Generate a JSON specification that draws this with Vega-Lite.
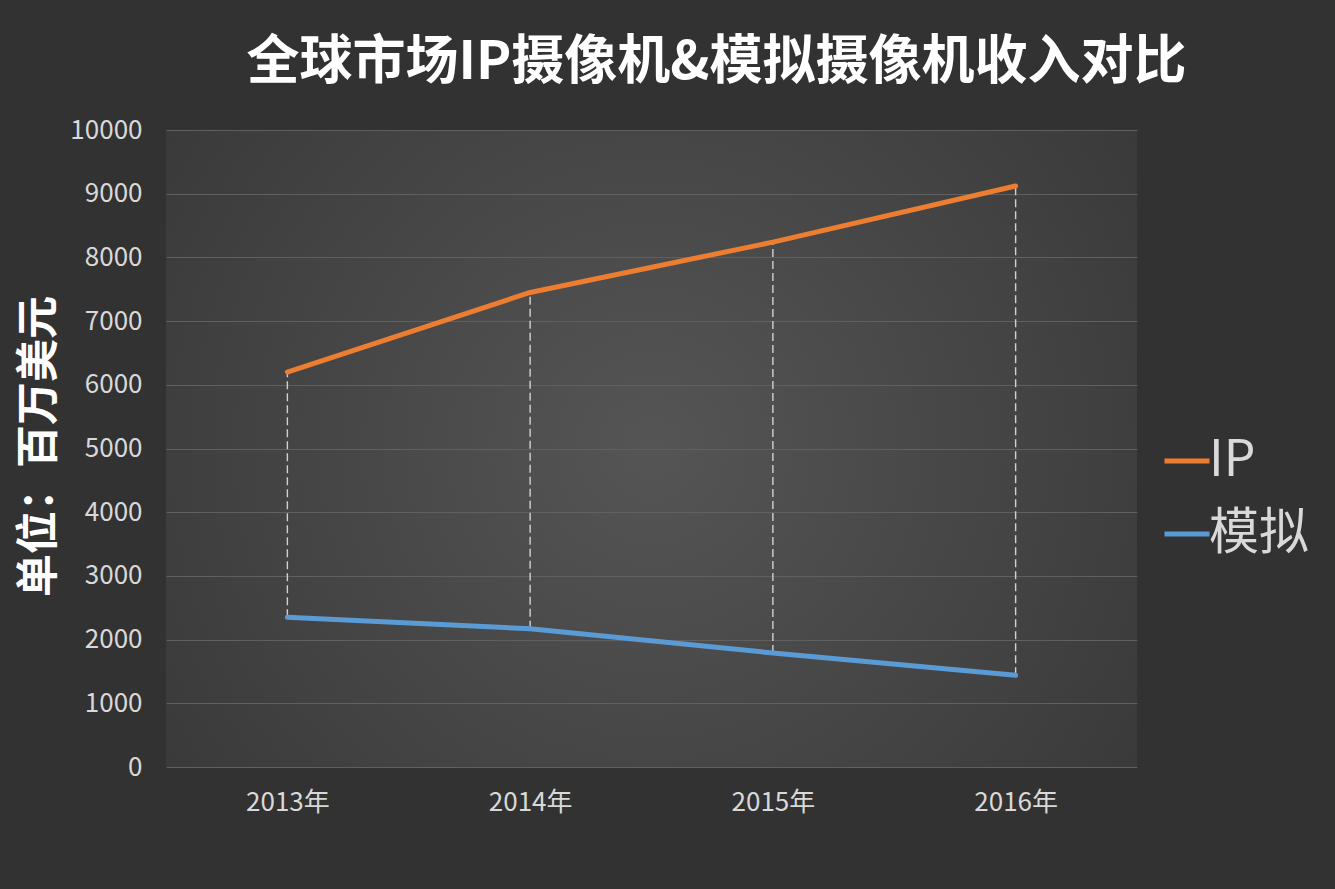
{
  "$schema": "https://vega.github.io/schema/vega-lite/v6.json",
  "width": 971,
  "height": 637,
  "autosize": {"type": "none"},
  "padding": {"left": 166, "top": 130, "right": 198, "bottom": 122},
  "background": "#323232",
  "config": {
    "font": "Noto Sans CJK SC",
    "view": {
      "stroke": null,
      "fill": {
        "gradient": "radial",
        "x1": 0.5, "y1": 0.5, "x2": 0.5, "y2": 0.5, "r1": 0, "r2": 0.75,
        "stops": [
          {"offset": 0, "color": "#555555"},
          {"offset": 1, "color": "#333333"}
        ]
      }
    }
  },
  "title": {
    "text": "全球市场IP摄像机&模拟摄像机收入对比",
    "font": "Noto Sans CJK SC",
    "fontSize": 53,
    "fontWeight": "bold",
    "color": "#ffffff",
    "anchor": "middle",
    "dx": 65,
    "offset": 27
  },
  "data": {
    "values": [
      {"year": "2013年", "IP": 6200, "模拟": 2350},
      {"year": "2014年", "IP": 7450, "模拟": 2170},
      {"year": "2015年", "IP": 8240, "模拟": 1790},
      {"year": "2016年", "IP": 9120, "模拟": 1440}
    ]
  },
  "encoding": {
    "x": {
      "field": "year",
      "type": "ordinal",
      "scale": {"type": "point", "padding": 0.5},
      "axis": {
        "title": null,
        "labelAngle": 0,
        "labelFontSize": 26,
        "labelColor": "#d9d9d9",
        "labelFont": "Noto Sans CJK SC",
        "labelPadding": 22,
        "ticks": false,
        "domain": false,
        "grid": false
      }
    }
  },
  "layer": [
    {
      "mark": {"type": "rule", "strokeDash": [8, 4], "color": "#d0d0d0", "strokeWidth": 1.4},
      "encoding": {
        "y": {
          "field": "模拟",
          "type": "quantitative",
          "scale": {"domain": [0, 10000]},
          "axis": {
            "title": "单位：百万美元",
            "titleFont": "Noto Sans CJK SC",
            "titleFontSize": 43,
            "titleFontWeight": "bold",
            "titleColor": "#ffffff",
            "titleAngle": 270,
            "titleX": -127,
            "titleY": 316,
            "titleAlign": "center",
            "titleBaseline": "middle",
            "values": [0, 1000, 2000, 3000, 4000, 5000, 6000, 7000, 8000, 9000, 10000],
            "format": "d",
            "labelFontSize": 26,
            "labelColor": "#d9d9d9",
            "labelFont": "Noto Sans CJK SC",
            "labelPadding": 24,
            "ticks": false,
            "domain": false,
            "gridColor": "#606060",
            "gridWidth": 1
          }
        },
        "y2": {"field": "IP"}
      }
    },
    {
      "transform": [{"fold": ["IP", "模拟"], "as": ["series", "value"]}],
      "mark": {"type": "line", "strokeWidth": 5, "strokeCap": "round", "strokeJoin": "round"},
      "encoding": {
        "y": {
          "field": "value",
          "type": "quantitative",
          "scale": {"domain": [0, 10000]},
          "axis": {
            "title": "单位：百万美元",
            "titleFont": "Noto Sans CJK SC",
            "titleFontSize": 43,
            "titleFontWeight": "bold",
            "titleColor": "#ffffff",
            "titleAngle": 270,
            "titleX": -127,
            "titleY": 316,
            "titleAlign": "center",
            "titleBaseline": "middle",
            "values": [0, 1000, 2000, 3000, 4000, 5000, 6000, 7000, 8000, 9000, 10000],
            "format": "d",
            "labelFontSize": 26,
            "labelColor": "#d9d9d9",
            "labelFont": "Noto Sans CJK SC",
            "labelPadding": 24,
            "ticks": false,
            "domain": false,
            "gridColor": "#606060",
            "gridWidth": 1
          }
        },
        "color": {
          "field": "series",
          "type": "nominal",
          "scale": {"domain": ["IP", "模拟"], "range": ["#ED7D31", "#5B9BD5"]},
          "legend": {
            "title": null,
            "orient": "none",
            "legendX": 996,
            "legendY": 306,
            "padding": 0,
            "symbolType": "stroke",
            "symbolSize": 2025,
            "symbolStrokeWidth": 5,
            "labelFontSize": 50,
            "labelFont": "Noto Sans CJK SC",
            "labelColor": "#d9d9d9",
            "labelOffset": -3,
            "labelLimit": 300,
            "rowPadding": 23
          }
        }
      }
    }
  ]
}
